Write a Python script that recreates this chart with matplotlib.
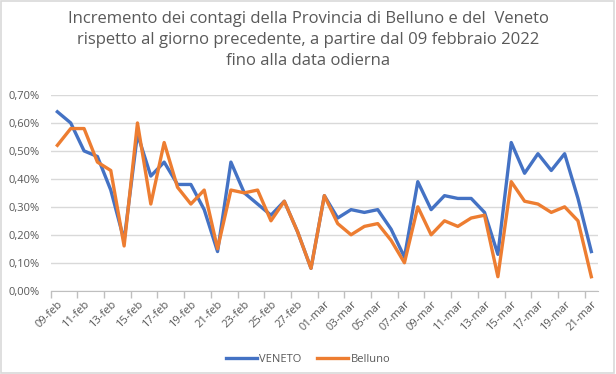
import numpy as np
import matplotlib.pyplot as plt
from matplotlib.patches import Rectangle
from matplotlib.ticker import FuncFormatter

# daily dates, 09 Feb -> 21 Mar 2022
days = [f"{d:02d}-feb" for d in range(9, 29)] + [f"{d:02d}-mar" for d in range(1, 22)]

# percentage increase vs previous day (%)
veneto = [0.64, 0.60, 0.50, 0.48, 0.36, 0.18, 0.56, 0.41, 0.46, 0.38,
          0.38, 0.29, 0.14, 0.46, 0.35, 0.31, 0.27, 0.32, 0.21, 0.08,
          0.34, 0.26, 0.29, 0.28, 0.29, 0.22, 0.12, 0.39, 0.29, 0.34,
          0.33, 0.33, 0.28, 0.13, 0.53, 0.42, 0.49, 0.43, 0.49, 0.33,
          0.14]
belluno = [0.52, 0.58, 0.58, 0.46, 0.43, 0.16, 0.60, 0.31, 0.53, 0.37,
           0.31, 0.36, 0.15, 0.36, 0.35, 0.36, 0.25, 0.32, 0.21, 0.08,
           0.34, 0.24, 0.20, 0.23, 0.24, 0.18, 0.10, 0.30, 0.20, 0.25,
           0.23, 0.26, 0.27, 0.05, 0.39, 0.32, 0.31, 0.28, 0.30, 0.25,
           0.05]

title = ("Incremento dei contagi della Provincia di Belluno e del  Veneto\n"
         "rispetto al giorno precedente, a partire dal 09 febbraio 2022\n"
         "fino alla data odierna")

plt.rcParams['font.family'] = ['Open Sans', 'DejaVu Sans']
grey_txt = '#595959'

fig = plt.figure(figsize=(6.16, 3.74), dpi=100)
ax = fig.add_axes([50.7 / 616, 1 - 290.7 / 374, (598 - 50.7) / 616, (290.7 - 95) / 374])

x = np.arange(len(days))
ax.plot(x, veneto, color='#4472C4', lw=2.4, label='VENETO', solid_joinstyle='round')
ax.plot(x, belluno, color='#ED7D31', lw=2.4, label='Belluno', solid_joinstyle='round')

ax.set_xlim(-0.5, len(days) - 0.5)
ax.set_ylim(0, 0.70)
ax.set_yticks(np.arange(0, 0.71, 0.10))
ax.yaxis.set_major_formatter(FuncFormatter(lambda v, p: f"{v:.2f}%".replace('.', ',')))
ax.grid(axis='y', color='#D9D9D9', lw=1)
ax.set_axisbelow(True)

ax.set_xticks(x[::2])
ax.set_xticklabels(days[::2], rotation=45, ha='right', rotation_mode='anchor')
ax.set_xticks(np.arange(-0.5, len(days) - 1, 2), minor=True)
ax.tick_params(axis='x', which='major', length=0, pad=6, labelsize=8, labelcolor=grey_txt)
ax.tick_params(axis='x', which='minor', length=5, color='#BFBFBF', width=1)
ax.tick_params(axis='y', length=0, labelsize=8, labelcolor=grey_txt, pad=8)

for s in ['top', 'right', 'left']:
    ax.spines[s].set_visible(False)
ax.spines['bottom'].set_color('#BFBFBF')

fig.text(0.5, 1 - 11 / 374, title, ha='center', va='top', fontsize=12,
         color=grey_txt, linespacing=1.4)

ax.legend(loc='center', bbox_to_anchor=(0.5, (374 - 359) / 374), bbox_transform=fig.transFigure,
          ncol=2, frameon=False, fontsize=8, handlelength=2.8, columnspacing=1.4,
          handletextpad=0.2, labelcolor=grey_txt)

fig.patches.append(Rectangle((0.002, 0.003), 0.995, 0.993, transform=fig.transFigure,
                             fill=False, edgecolor='#D9D9D9', lw=1.2))

fig.savefig('out.png', dpi=100)
